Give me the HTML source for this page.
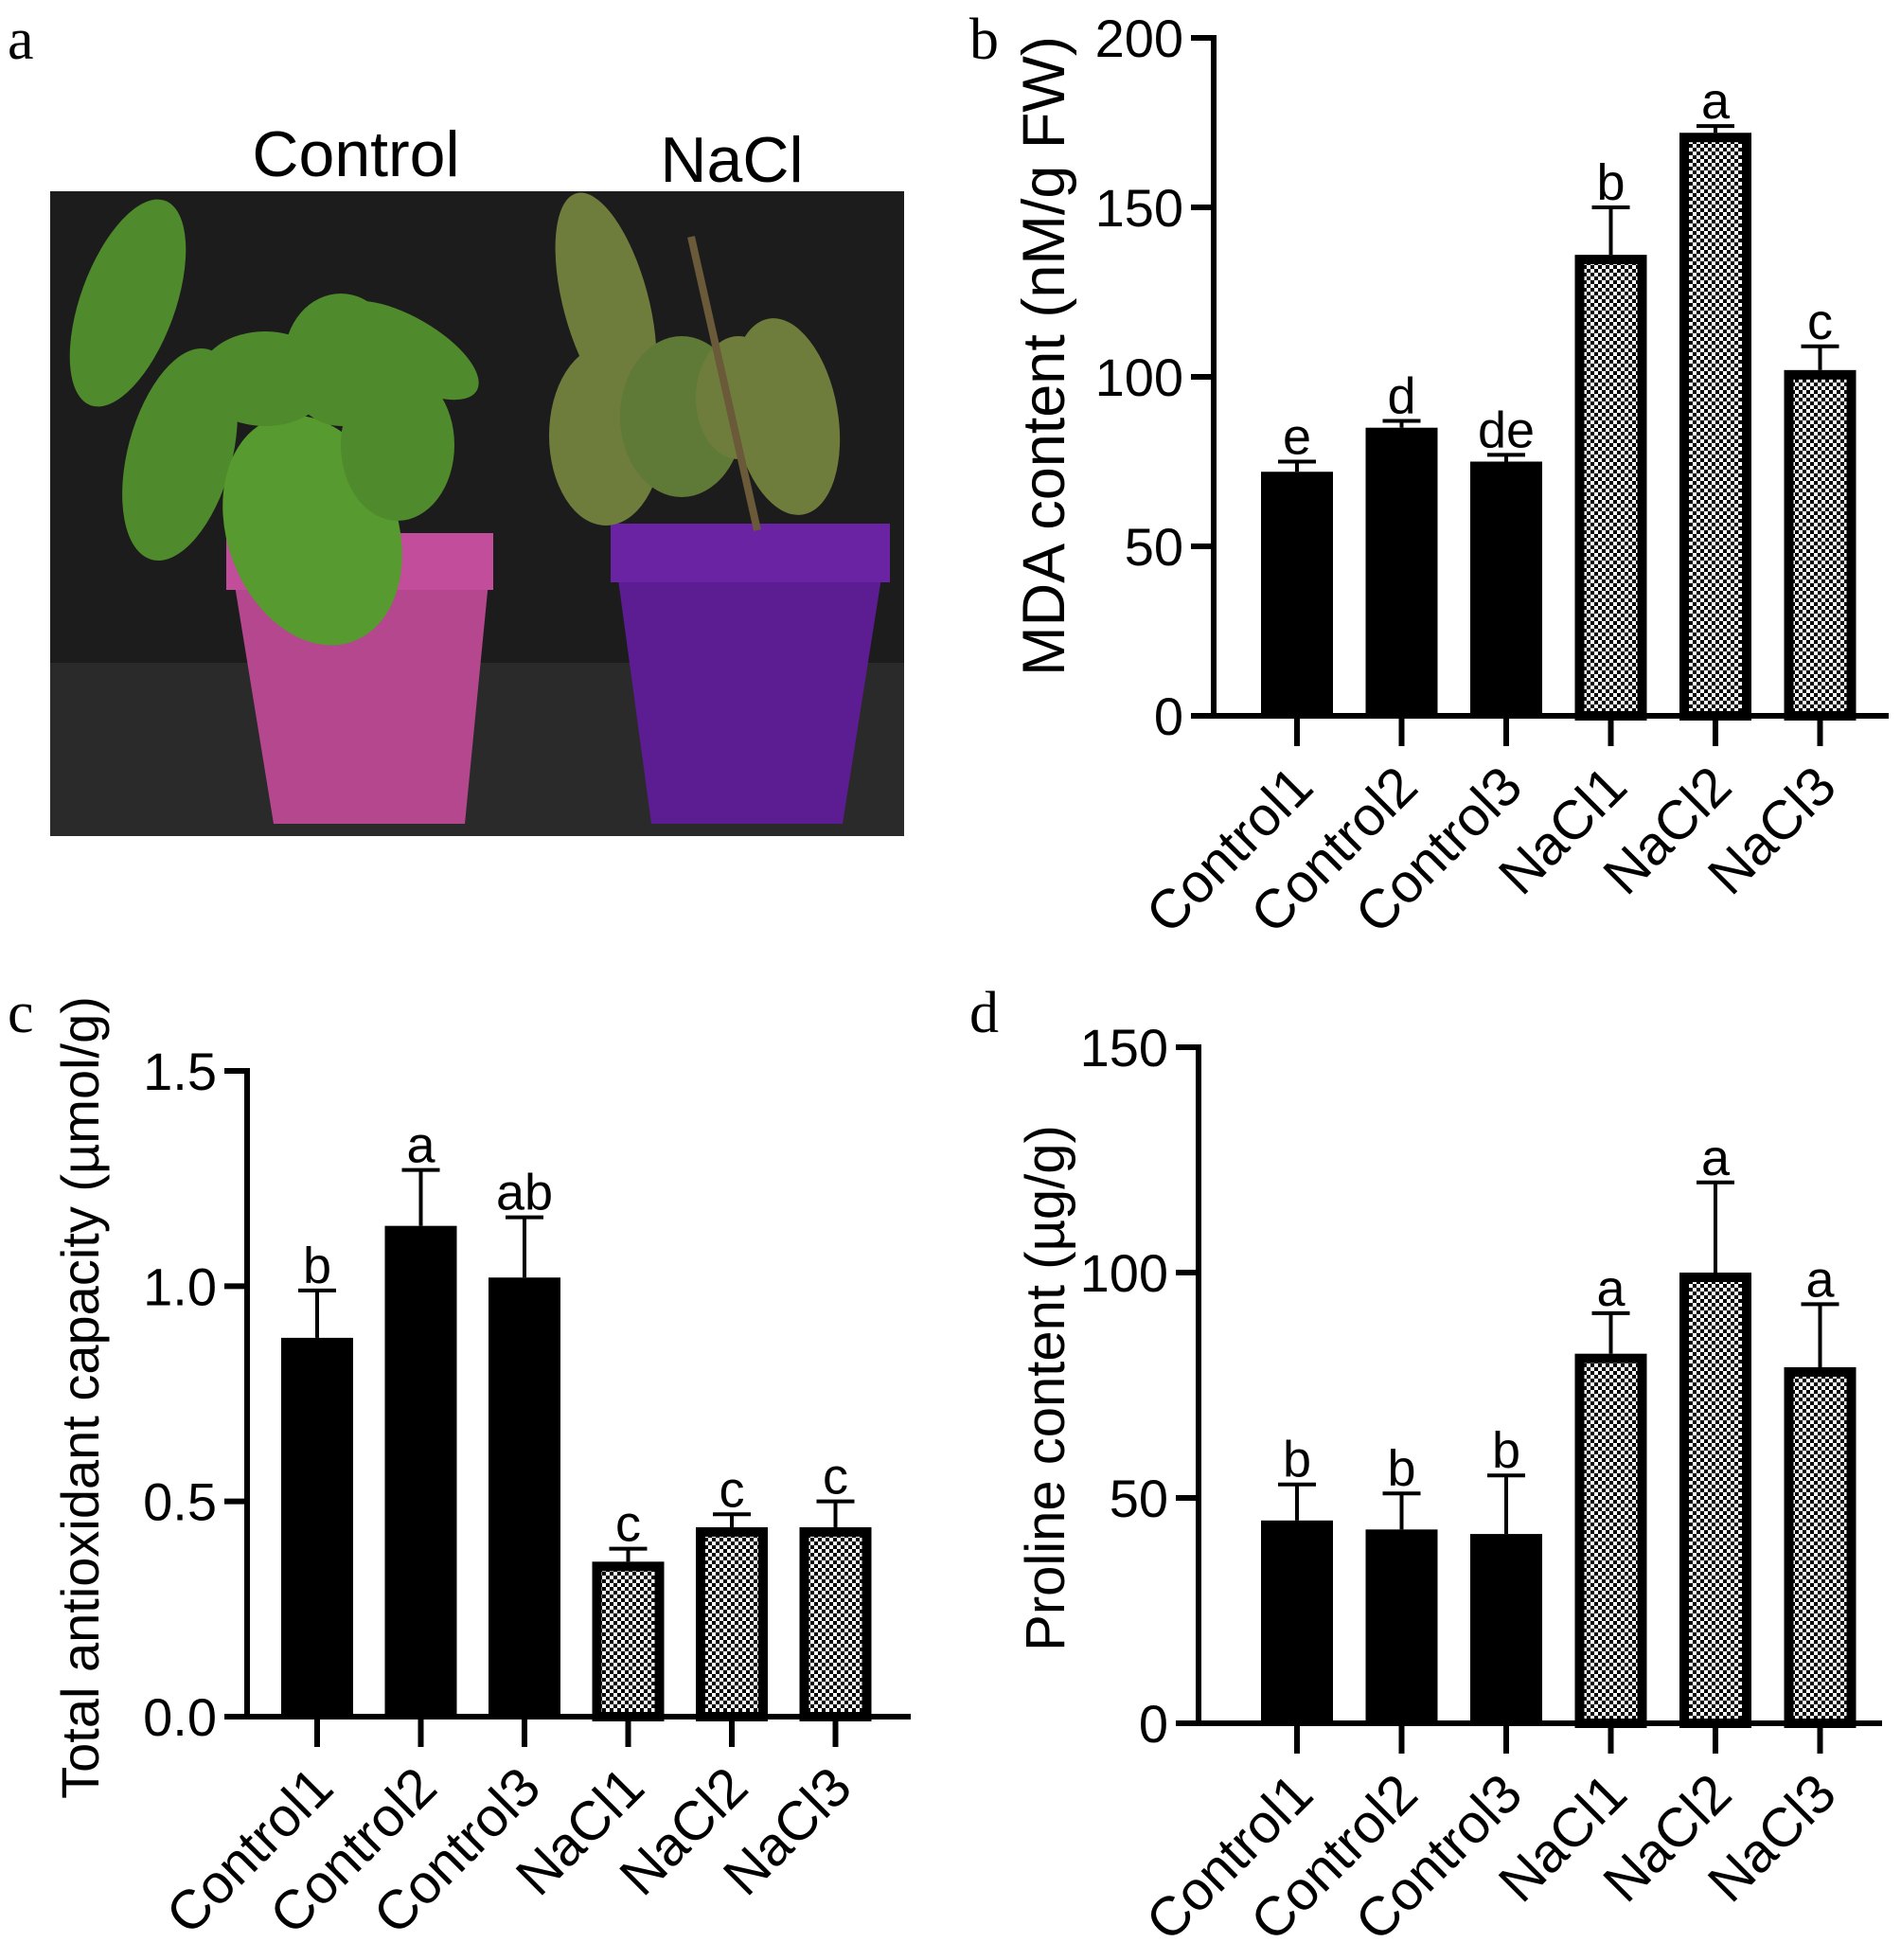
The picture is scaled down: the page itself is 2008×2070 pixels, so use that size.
<!DOCTYPE html>
<html><head><meta charset="utf-8"><style>
html,body{margin:0;padding:0;background:#fff;}
svg{display:block;font-family:"Liberation Sans",Arial,sans-serif;}
.pl{font-family:"Liberation Serif",serif;font-size:62px;}
</style></head><body>
<svg id="fig" width="2008" height="2070" viewBox="0 0 2008 2070" xmlns="http://www.w3.org/2000/svg">
<defs>
<pattern id="chk" width="8" height="8" patternUnits="userSpaceOnUse">
<rect width="8" height="8" fill="#fff"/><rect width="4" height="4" fill="#000"/><rect x="4" y="4" width="4" height="4" fill="#000"/>
</pattern>
</defs>
<text class="pl" x="8" y="62">a</text>
<text class="pl" x="1024" y="62">b</text>
<text class="pl" x="8" y="1090">c</text>
<text class="pl" x="1024" y="1090">d</text>

<g>
<text x="376" y="186" font-size="68" text-anchor="middle">Control</text>
<text x="773" y="192" font-size="68" text-anchor="middle">NaCl</text>
<rect x="53" y="202" width="902" height="681" fill="#1c1c1c"/>
<rect x="53" y="700" width="902" height="183" fill="#2a2a2a"/>
<polygon points="239,563 521,563 491,870 289,870" fill="#b5478f"/>
<rect x="239" y="563" width="282" height="60" fill="#c24d9a"/>
<polygon points="645,553 940,553 890,870 688,870" fill="#5d1d92"/>
<rect x="645" y="553" width="295" height="62" fill="#6a23a3"/>
<g fill="#4f8a2c">
<ellipse cx="135" cy="320" rx="50" ry="115" transform="rotate(20 135 320)"/>
<ellipse cx="190" cy="480" rx="55" ry="115" transform="rotate(15 190 480)"/>
<ellipse cx="330" cy="560" rx="90" ry="125" transform="rotate(-20 330 560)" fill="#579a30"/>
<ellipse cx="280" cy="400" rx="70" ry="50"/>
<ellipse cx="360" cy="380" rx="60" ry="70"/>
<ellipse cx="430" cy="370" rx="85" ry="35" transform="rotate(30 430 370)"/>
<ellipse cx="420" cy="470" rx="60" ry="80"/>
</g>
<g fill="#6f7d3c">
<ellipse cx="640" cy="320" rx="45" ry="120" transform="rotate(-15 640 320)"/>
<ellipse cx="640" cy="460" rx="60" ry="95"/>
<ellipse cx="720" cy="440" rx="65" ry="85" fill="#5f7a36"/>
<ellipse cx="830" cy="440" rx="55" ry="105" transform="rotate(-10 830 440)"/>
<ellipse cx="780" cy="420" rx="45" ry="65"/>
</g>
<line x1="730" y1="250" x2="800" y2="560" stroke="#6b5a3a" stroke-width="8"/>
</g>

<g id="chartB"></g>
<g id="chartC"></g>
<g id="chartD"></g>
</svg>
<script>
const categories = ["Control1","Control2","Control3","NaCl1","NaCl2","NaCl3"];
const mdaValues = [72, 85, 75, 136, 172, 102];
const mdaErrors = [3, 2, 2, 14, 2, 7];
const mdaLetters = ["e","d","de","b","a","c"];
const mdaTicks = [0, 50, 100, 150, 200];
const taoValues = [0.88, 1.14, 1.02, 0.36, 0.44, 0.44];
const taoErrors = [0.11, 0.13, 0.14, 0.03, 0.03, 0.06];
const taoLetters = ["b","a","ab","c","c","c"];
const taoTicks = [0.0, 0.5, 1.0, 1.5];
const taoTickLabels = ["0.0","0.5","1.0","1.5"];
const proValues = [45, 43, 42, 82, 100, 79];
const proErrors = [8, 8, 13, 9, 20, 14];
const proLetters = ["b","b","b","a","a","a"];
const proTicks = [0, 50, 100, 150];

const NS = "http://www.w3.org/2000/svg";
function mk(parent, tag, attrs, text){
  const e = document.createElementNS(NS, tag);
  for (const k in attrs) e.setAttribute(k, attrs[k]);
  if (text !== undefined) e.textContent = text;
  parent.appendChild(e);
  return e;
}
function draw(g, cfg, values, errors, letters, ticks, tickLabels){
  const yMin = ticks[0], yMax = ticks[ticks.length-1];
  const y = v => cfg.y0 - (v - yMin) / (yMax - yMin) * (cfg.y0 - cfg.y1);
  const x = i => cfg.first + cfg.step*i;
  const bw = 76;
  values.forEach((v,i)=>{
    const cx = x(i), top = y(v), et = y(v + errors[i]);
    const el = mk(g,'line',{x1:cx,y1:top,x2:cx,y2:et,stroke:'#000','stroke-width':4});
    
    
    const cap = mk(g,'line',{x1:cx-20,y1:et,x2:cx+20,y2:et,stroke:'#000','stroke-width':4});
    
    
    let bar;
    if (i < 3) {
      bar = mk(g,'rect',{x:cx-bw/2,y:top,width:bw,height:cfg.y0-top,fill:'#000'});
    } else {
      bar = mk(g,'rect',{x:cx-bw/2+5,y:top+5,width:bw-10,height:cfg.y0-top-5,fill:'url(#chk)',stroke:'#000','stroke-width':10});
    }
    
    
    const lt = mk(g,'text',{x:cx,y:et-8,'font-size':54,'text-anchor':'middle'},letters[i]);
    
    
    const tk = mk(g,'line',{x1:cx,y1:cfg.y0,x2:cx,y2:cfg.y0+32,stroke:'#000','stroke-width':6});
    
    
    const tx = cx+20, ty = cfg.y0+78;
    const lb = mk(g,'text',{x:tx,y:ty,'font-size':58,'text-anchor':'end',transform:`rotate(-45 ${tx} ${ty})`},categories[i]);
    
    
  });
  ticks.forEach((t,j)=>{
    const yy = y(t);
    const tl = mk(g,'line',{x1:cfg.x0-24,y1:yy,x2:cfg.x0,y2:yy,stroke:'#000','stroke-width':6});
    
    
    const lab = mk(g,'text',{x:cfg.x0-32,y:yy+20,'font-size':56,'text-anchor':'end'}, tickLabels ? tickLabels[j] : String(t));
    
    
  });
  const ya = mk(g,'line',{x1:cfg.x0,y1:cfg.y1-3,x2:cfg.x0,y2:cfg.y0+3,stroke:'#000','stroke-width':6});
  
  
  const xa = mk(g,'line',{x1:cfg.x0-3,y1:cfg.y0,x2:cfg.xEnd,y2:cfg.y0,stroke:'#000','stroke-width':6});
  
  
  const tt = mk(g,'text',{x:cfg.tx,y:cfg.ty,'font-size':cfg.tfs,'text-anchor':'middle',transform:`rotate(-90 ${cfg.tx} ${cfg.ty})`},cfg.title);
  
  
}
draw(document.getElementById('chartB'),{x0:1282,y0:756,y1:40,xEnd:1995,first:1370,step:110.5,tx:1124,ty:376,tfs:63,title:"MDA content (nM/g FW)"},mdaValues,mdaErrors,mdaLetters,mdaTicks);
draw(document.getElementById('chartC'),{x0:261,y0:1813,y1:1131,xEnd:962,first:335,step:109.5,tx:104,ty:1476,tfs:56,title:"Total antioxidant capacity (µmol/g)"},taoValues,taoErrors,taoLetters,taoTicks,taoTickLabels);
draw(document.getElementById('chartD'),{x0:1266,y0:1820,y1:1106,xEnd:1988,first:1370,step:110.5,tx:1124,ty:1466,tfs:58,title:"Proline content (µg/g)"},proValues,proErrors,proLetters,proTicks);
</script>
</body></html>
